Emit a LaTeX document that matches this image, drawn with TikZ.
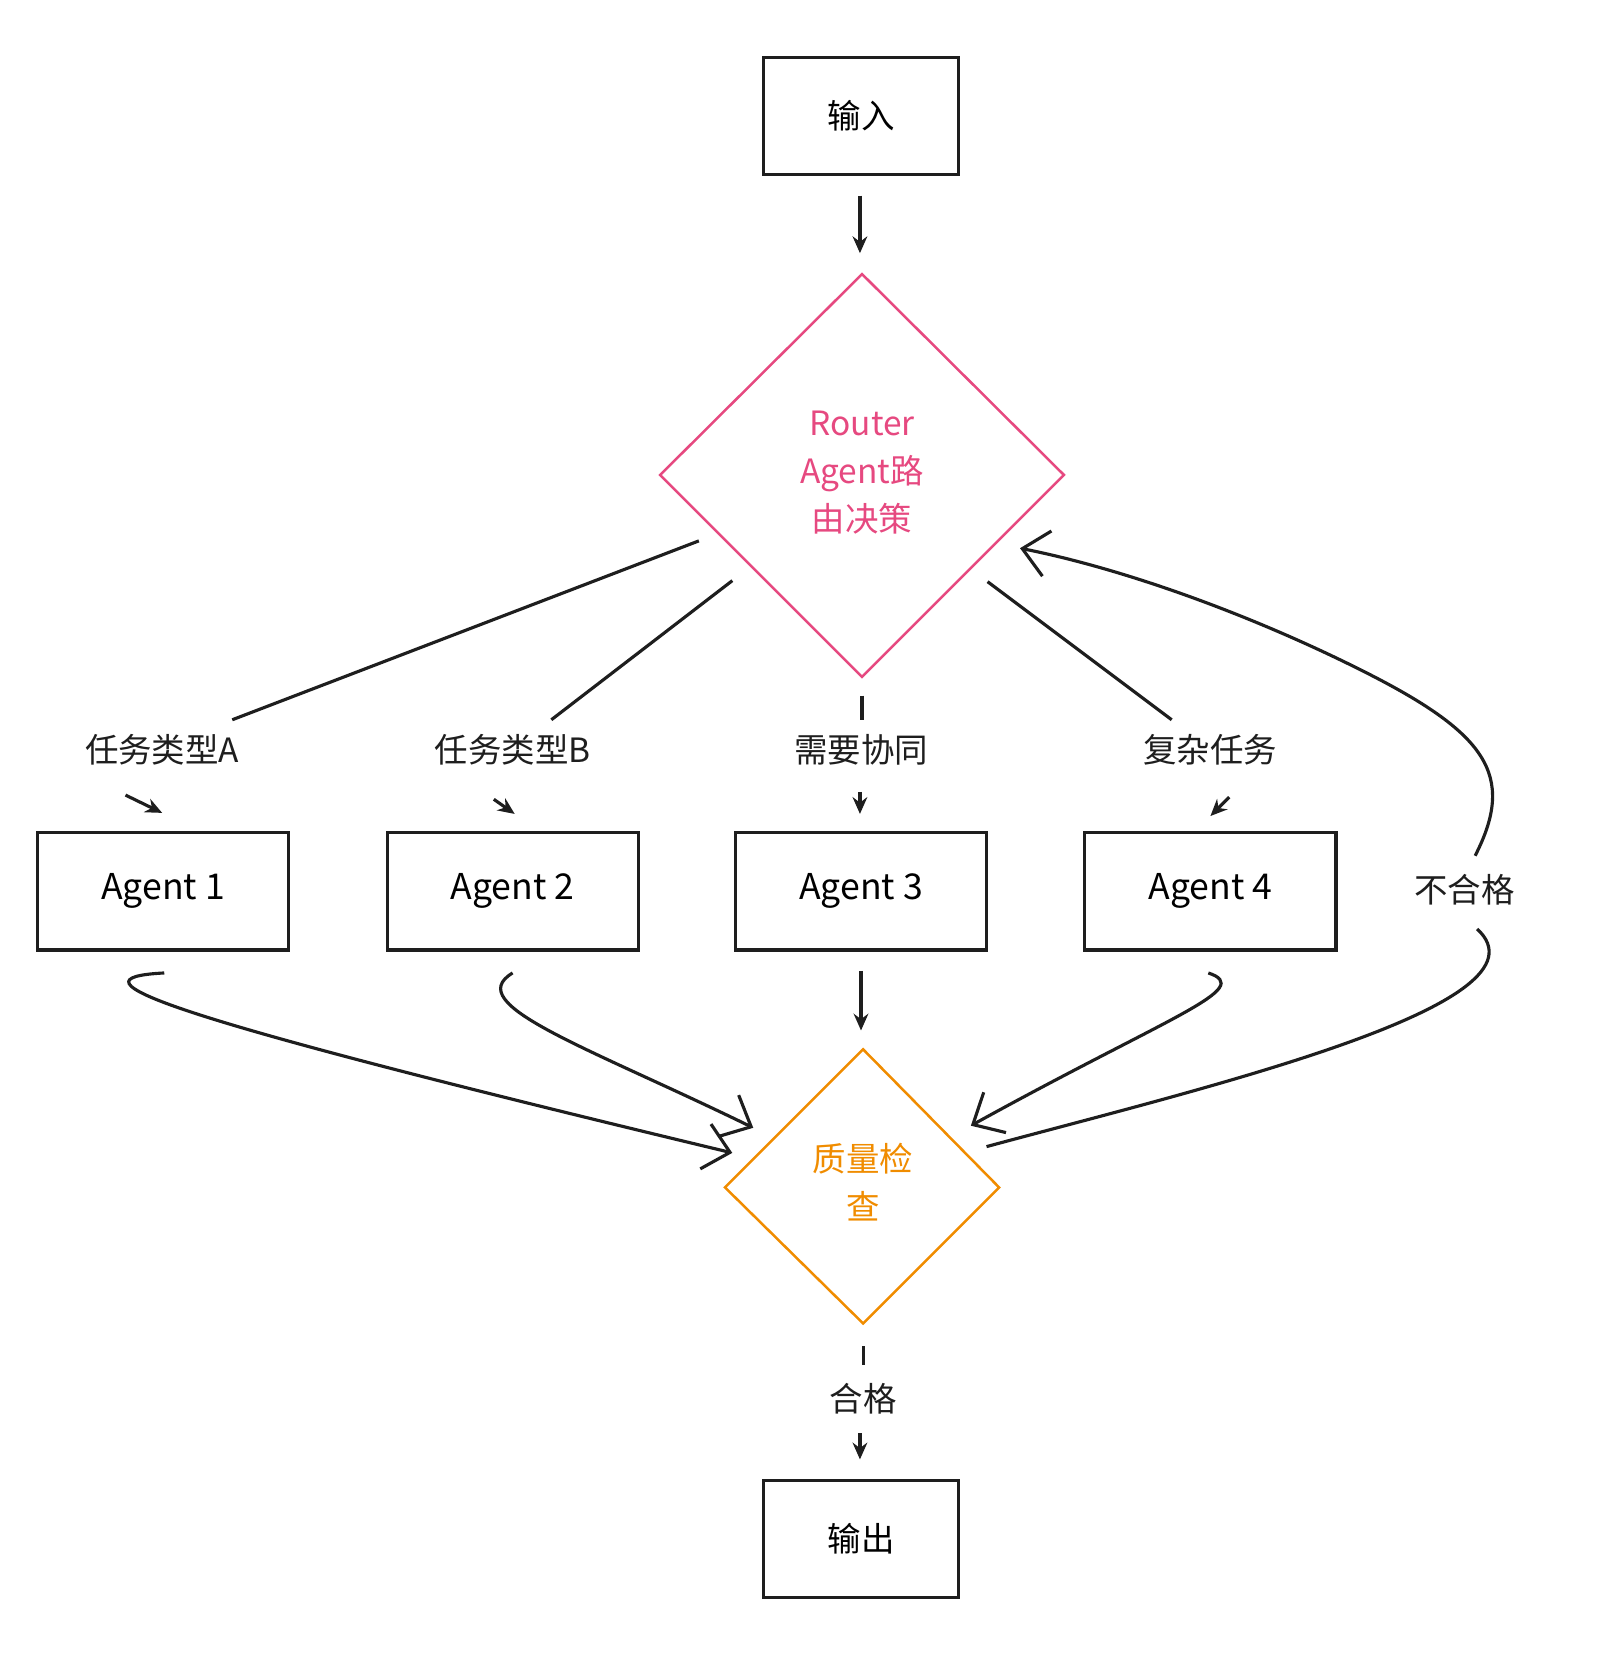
\documentclass[tikz,border=0pt]{standalone}
\usepackage{fontspec}
\setmainfont{Noto Sans CJK SC}
\usetikzlibrary{arrows.meta}
\definecolor{pk}{HTML}{E64980}
\definecolor{og}{HTML}{F08C00}
\definecolor{ink}{HTML}{1E1E1E}
\begin{document}
\begin{tikzpicture}[x=0.5pt,y=-0.5pt,
 box/.style={draw=ink,line width=1.5pt,minimum width=93.5pt,minimum height=56pt,inner sep=0pt,font=\fontsize{16}{19}\selectfont},
 abox/.style={draw=ink,line width=1.5pt,minimum width=120pt,minimum height=56pt,inner sep=0pt,font=\fontsize{17}{20}\selectfont\itshape},
 lab/.style={font=\fontsize{16}{19}\selectfont,text=ink},
 ln/.style={draw=ink,line width=1.5pt},
 ar/.style={ln,-{Stealth[length=8pt,width=7pt]}},
 oar/.style={ln,-{Straight Barb[length=12pt,width=22pt]}}]
\useasboundingbox (0,0) rectangle (1530,1581);
\node[box] (in) at (823,111) {输入};
\node[box] (out) at (823,1471) {输出};
\draw[pk,line width=1.2pt] (824,262) -- (1017,454) -- (824,647) -- (631,454) -- cycle;
\node[align=center,text=pk,font=\fontsize{16}{23}\selectfont] (r) at (824,452) {Router\\Agent路\\由决策};
\draw[og,line width=1.2pt] (825,1003) -- (955,1135) -- (825,1265) -- (693,1135) -- cycle;
\node[align=center,text=og,font=\fontsize{16}{23}\selectfont] (q) at (825,1130) {质量检\\查};
\node[abox] (a1) at (156,852) {Agent 1};
\node[abox] (a2) at (490,852) {Agent 2};
\node[abox] (a3) at (823,852) {Agent 3};
\node[abox] (a4) at (1157,852) {Agent 4};
\node[lab] (l1) at (155,717) {任务类型A};
\node[lab] (l2) at (490,717) {任务类型B};
\node[lab] (l3) at (823,717) {需要协同};
\node[lab] (l4) at (1157,717) {复杂任务};
\node[lab] (l5) at (1400,850) {不合格};
\node[lab] (l6) at (825,1337) {合格};
\coordinate (ia) at (822,187); \coordinate (ib) at (822,242);
\draw[ar] (ia) -- (ib);
\coordinate (s1) at (668,517); \coordinate (e1) at (222,688);
\coordinate (s2) at (700,555); \coordinate (e2) at (527,688);
\coordinate (s3) at (824,665); \coordinate (e3) at (824,688);
\coordinate (s4) at (944,556); \coordinate (e4) at (1120,688);
\draw[ln] (s1) -- (e1); \draw[ln] (s2) -- (e2); \draw[ln] (s3) -- (e3); \draw[ln] (s4) -- (e4);
\coordinate (b1) at (120,760); \coordinate (c1) at (155,777);
\coordinate (b2) at (472,764); \coordinate (c2) at (492,778);
\coordinate (b3) at (822,757); \coordinate (c3) at (822,778);
\coordinate (b4) at (1175,762); \coordinate (c4) at (1157,780);
\draw[ar] (b1) -- (c1); \draw[ar] (b2) -- (c2); \draw[ar] (b3) -- (c3); \draw[ar] (b4) -- (c4);
\coordinate (d1) at (157,930); \coordinate (f1) at (700,1102);
\draw[oar] (d1) .. controls (60,935) and (150,970) .. (f1);
\coordinate (d2) at (490,930); \coordinate (f2) at (720,1078);
\draw[oar] (d2) .. controls (440,960) and (560,1000) .. (f2);
\coordinate (d3) at (823,928); \coordinate (f3) at (823,985);
\draw[ar] (d3) -- (f3);
\coordinate (d4) at (1155,930); \coordinate (f4) at (928,1076);
\draw[oar] (d4) .. controls (1200,945) and (1120,970) .. (f4);
\coordinate (g1) at (943,1096); \coordinate (g2) at (1412,888);
\draw[ln] (g1) .. controls (1150,1040) and (1490,960) .. (g2);
\coordinate (h1) at (1410,818); \coordinate (h2) at (975,524);
\draw[oar] (h1) .. controls (1450,740) and (1420,700) .. (1300,640) .. controls (1200,590) and (1080,545) .. (h2);
\coordinate (k1) at (825,1287); \coordinate (k2) at (825,1305);
\draw[ln] (k1) -- (k2);
\coordinate (m1) at (822,1370); \coordinate (m2) at (822,1395);
\draw[ar] (m1) -- (m2);
\end{tikzpicture}
\end{document}
